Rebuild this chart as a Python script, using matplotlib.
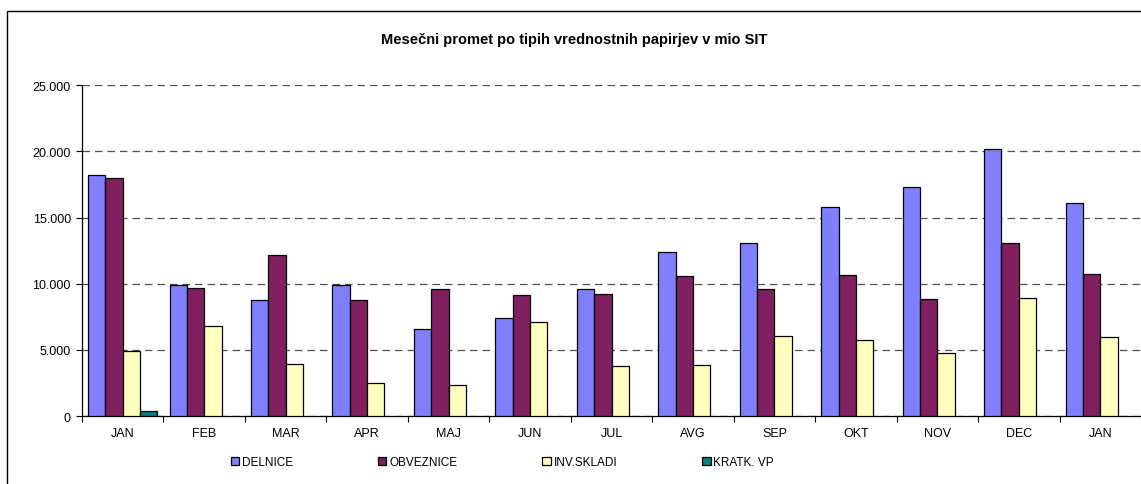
import numpy as np
import matplotlib
matplotlib.use('Agg')
import matplotlib.pyplot as plt
from matplotlib.patches import Rectangle, Patch
from matplotlib.ticker import FuncFormatter, MultipleLocator

plt.rcParams['font.family'] = ['Liberation Sans', 'DejaVu Sans']

TITLE = 'Mesečni promet po tipih vrednostnih papirjev v mio SIT'
MONTHS = ['JAN', 'FEB', 'MAR', 'APR', 'MAJ', 'JUN', 'JUL', 'AVG', 'SEP', 'OKT', 'NOV', 'DEC', 'JAN']
SERIES = ['DELNICE', 'OBVEZNICE', 'INV.SKLADI', 'KRATK. VP']
DELNICE = [18220, 9880, 8770, 9880, 6600, 7410, 9575, 12375, 13100, 15800, 17335, 20160, 16125]
OBVEZNICE = [17970, 9650, 12200, 8795, 9625, 9150, 9200, 10585, 9625, 10680, 8870, 13100, 10760]
INV_SKLADI = [4940, 6830, 3905, 2470, 2370, 7130, 3780, 3855, 6070, 5770, 4740, 8900, 5970]
KRATK_VP = [355, 0, 0, 0, 0, 0, 0, 0, 0, 0, 0, 0, 0]
COLORS = ['#8080ff', '#802060', '#ffffc0', '#008080']


def thousands(v, pos):
    return '{:,.0f}'.format(v).replace(',', '.')


fig = plt.figure(figsize=(11.41, 4.85), dpi=100)

# outer chart frame (cut off at right and bottom as in the source)
fig.patches.append(Rectangle((7 / 1141, -0.1), 1.2, 1 - 12 / 485 + 0.1,
                             transform=fig.transFigure, fill=False,
                             edgecolor='black', linewidth=1.0, zorder=0))

ax = fig.add_axes([82 / 1141, 1 - 417 / 485, 1 - 82 / 1141, (417 - 86.3) / 485])

x = np.arange(len(MONTHS))
w = 0.2125
data = [DELNICE, OBVEZNICE, INV_SKLADI, KRATK_VP]
for i, (vals, col) in enumerate(zip(data, COLORS)):
    vals = np.array(vals)
    mask = vals > 0
    ax.bar(x[mask] + (i - 1.5) * w, vals[mask], width=w, color=col,
           edgecolor='black', linewidth=0.9, zorder=3)

ax.set_xlim(-0.5, len(MONTHS) - 0.5)
ax.set_ylim(0, 25000)
ax.yaxis.set_major_locator(MultipleLocator(5000))
ax.yaxis.set_major_formatter(FuncFormatter(thousands))
ax.set_xticks(x)
ax.set_xticklabels(MONTHS)
ax.set_xticks(np.arange(-0.5, len(MONTHS)), minor=True)
ax.tick_params(axis='x', which='major', length=0, labelsize=9, pad=8)
ax.tick_params(axis='x', which='minor', length=4, width=0.8, direction='out')
ax.tick_params(axis='y', length=4, width=0.8, labelsize=9, pad=4)

ax.grid(axis='y', color='#505050', linestyle=(0, (6, 4)), linewidth=0.9, zorder=0)
ax.spines['top'].set_visible(False)
ax.spines['right'].set_visible(False)
ax.spines['left'].set_linewidth(0.9)
ax.spines['bottom'].set_linewidth(0.9)
ax.set_axisbelow(True)

fig.text(0.503, 1 - 40 / 485, TITLE, ha='center', va='center',
         fontsize=10.5, fontweight='bold')

handles = [Patch(facecolor=c, edgecolor='black', linewidth=0.9) for c in COLORS]
fig.legend(handles, SERIES, loc='center left', bbox_to_anchor=(226 / 1141, 1 - 463 / 485),
           ncol=4, frameon=False, fontsize=8.5, handlelength=0.7, handleheight=0.7,
           handletextpad=0.25, columnspacing=7.2, borderaxespad=0)

fig.savefig('out.png', dpi=100)
